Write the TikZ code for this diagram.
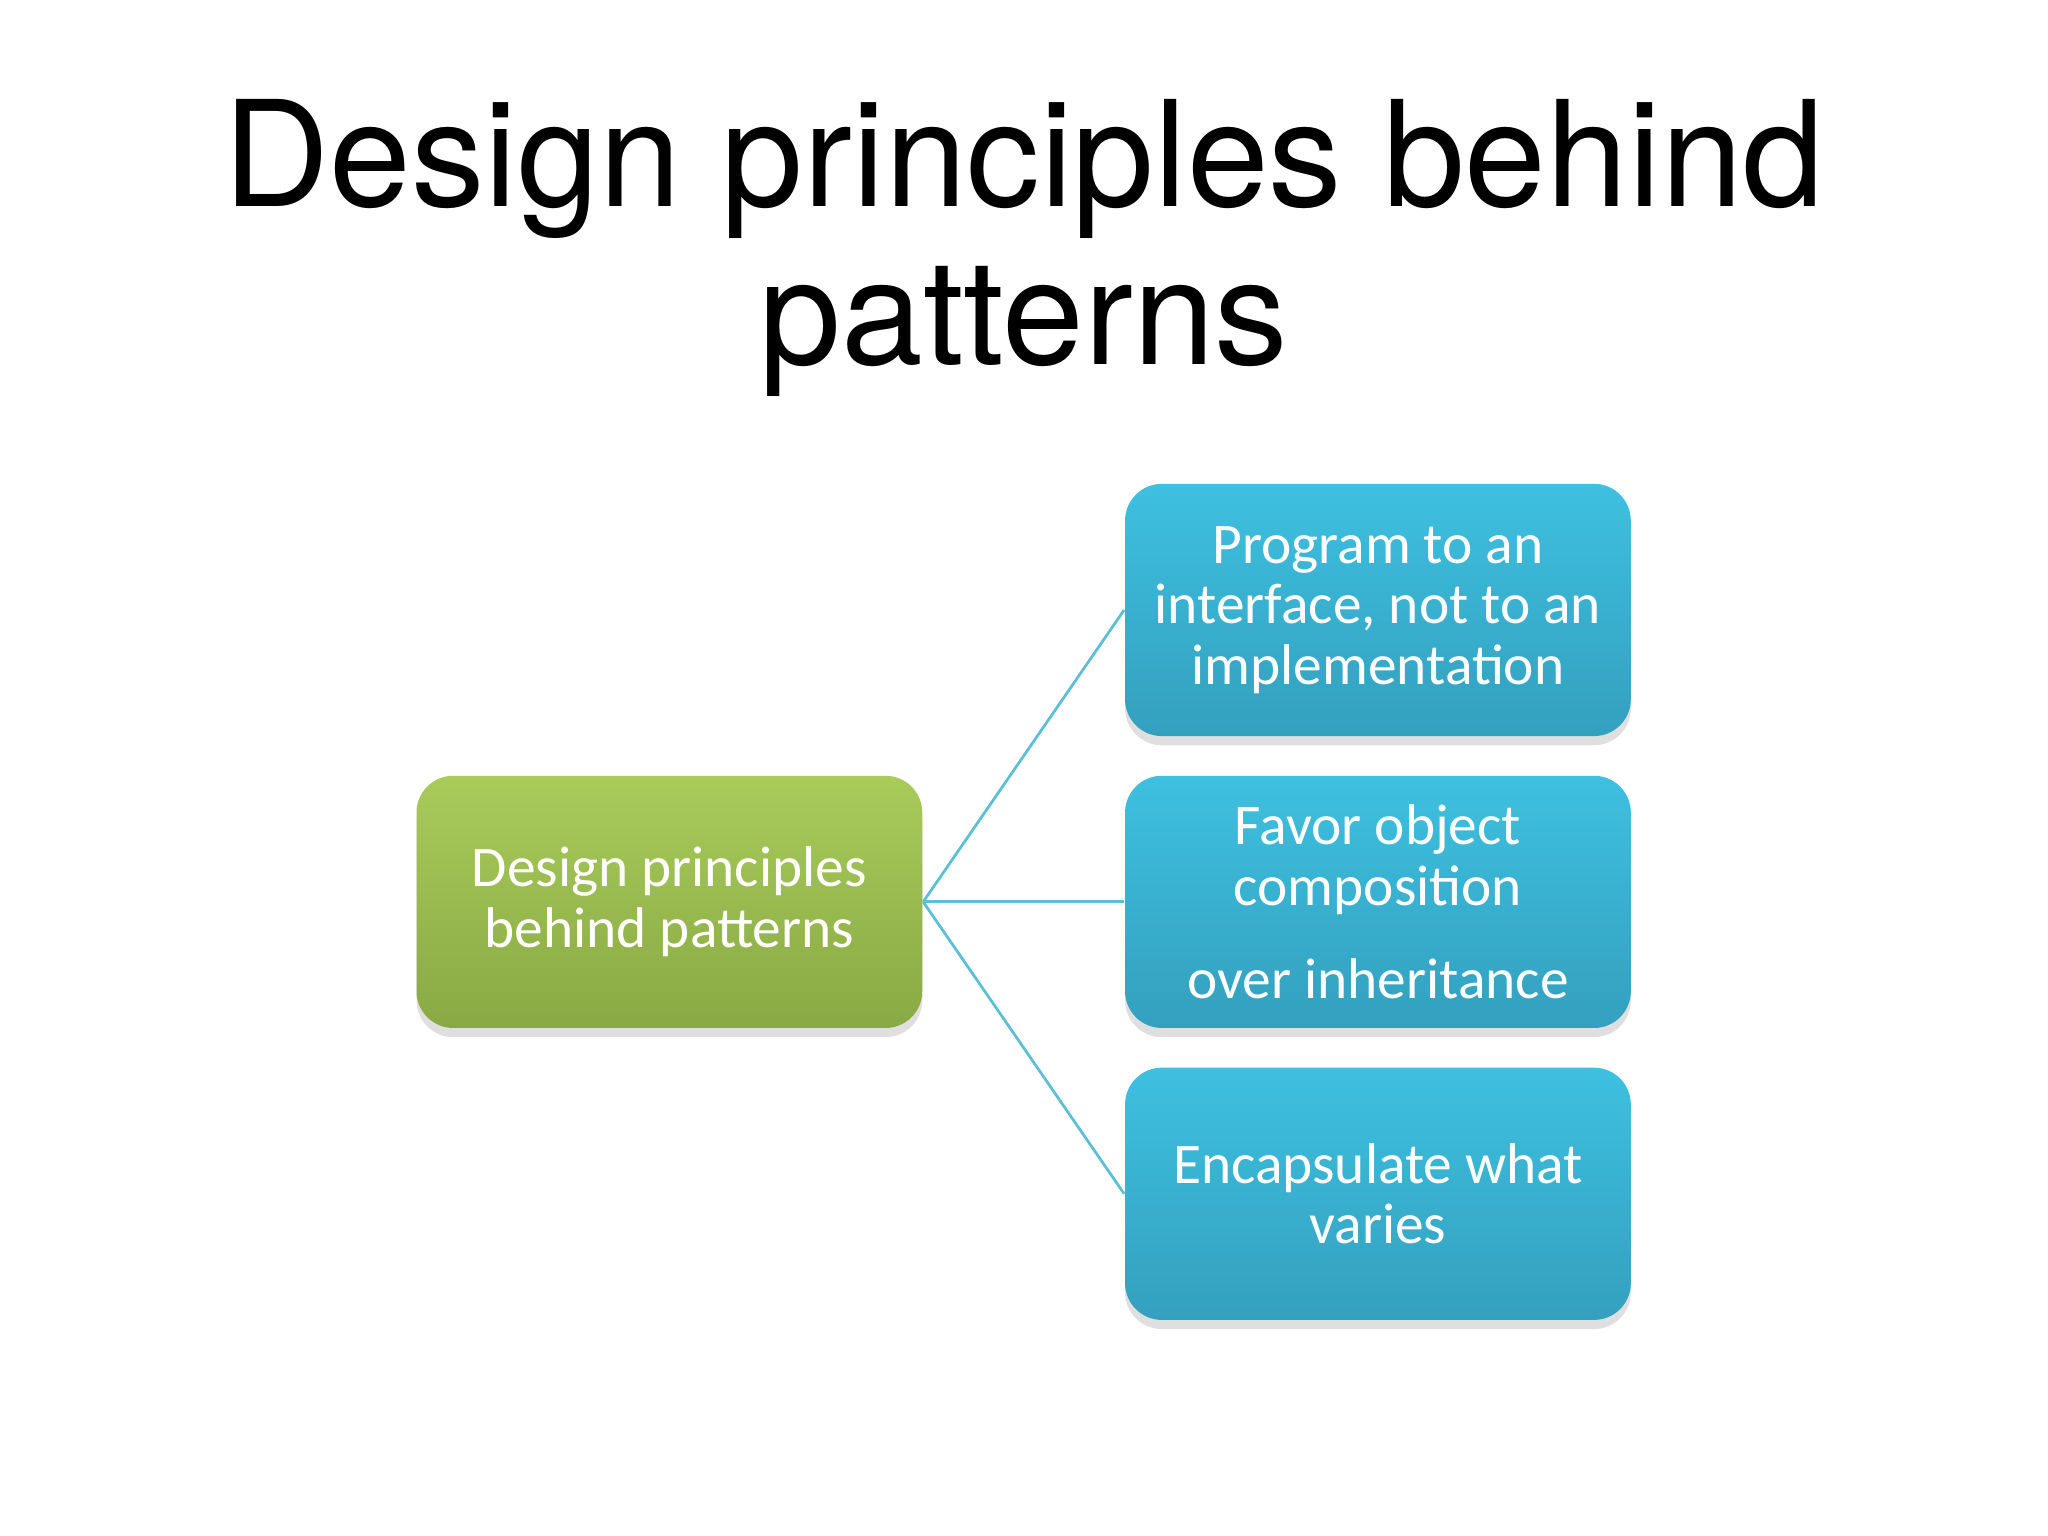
\documentclass[tikz,border=0pt]{standalone}
\usepackage{fontspec}
\setmainfont{Carlito}
\newfontfamily\titlefont{TeX Gyre Heros}
\usetikzlibrary{shadows}
\definecolor{leafgreen}{HTML}{A9CB5A}
\definecolor{leafdark}{HTML}{89A944}
\definecolor{skyblue}{HTML}{3EC0E0}
\definecolor{skydark}{HTML}{33A0BE}
\definecolor{linkblue}{HTML}{5BBFD6}

\begin{document}
\begin{tikzpicture}[
        x=0.01cm, y=-0.01cm,
        box/.style={rounded corners=8pt, minimum width=3.87cm, minimum height=1.93cm,
            text=white, align=center, font=\fontsize{12.5}{13.2}\selectfont,
            drop shadow={opacity=0.25, shadow xshift=0pt, shadow yshift=-2pt}},
        rootbox/.style={box, top color=leafgreen, bottom color=leafdark},
        leafbox/.style={box, top color=skyblue, bottom color=skydark},
        link/.style={draw=linkblue, line width=0.6pt}
    ]
    \useasboundingbox (0,0) rectangle (1568,1176);

    % --- Title ---
    \node[font=\titlefont\fontsize{32}{34.5}\selectfont, align=center] (title) at (784,190)
        {Design principles behind\\patterns};

    % --- Boxes ---
    \node[rootbox] (root) at (512.5,690.5) {Design principles\\behind patterns};
    \node[leafbox] (iface) at (1055,467) {Program to an\\interface, not to an\\implementation};
    \node[leafbox] (comp) at (1055,690.5) {Favor object\\composition\\[7pt]over inheritance};
    \node[leafbox] (vary) at (1055,914) {Encapsulate what\\varies};

    % --- Links ---
    \foreach \target in {iface,comp,vary}
        \draw[link] (root.east) -- (\target.west);

\end{tikzpicture}
\end{document}
